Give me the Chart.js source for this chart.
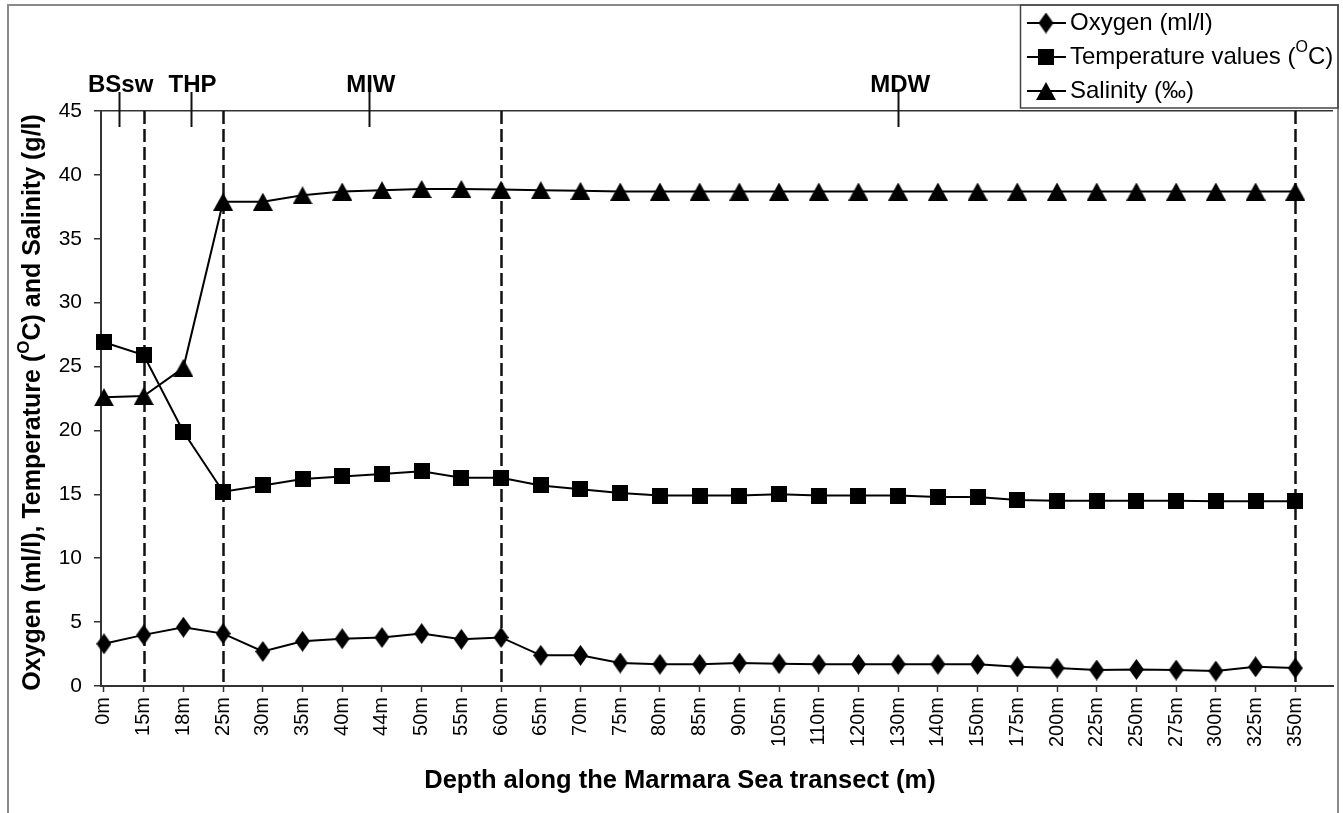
<!DOCTYPE html>
<html>
<head>
<meta charset="utf-8">
<script src="https://cdn.jsdelivr.net/npm/chart.js@4.4.1/dist/chart.umd.min.js"></script>
<style>
  html, body { margin: 0; padding: 0; background: #fff; }
  #wrap { width: 1343px; height: 813px; }
</style>
</head>
<body>
<div id="wrap"><canvas id="c" width="1343" height="813"></canvas></div>
<script>
const categories = ['0m','15m','18m','25m','30m','35m','40m','44m','50m','55m','60m','65m','70m','75m','80m','85m','90m','105m','110m','120m','130m','140m','150m','175m','200m','225m','250m','275m','300m','325m','350m'];
const oxygen = [3.3,4.0,4.6,4.1,2.7,3.5,3.7,3.8,4.1,3.65,3.8,2.4,2.4,1.8,1.7,1.7,1.8,1.75,1.7,1.7,1.7,1.7,1.7,1.5,1.4,1.25,1.3,1.25,1.17,1.5,1.4];
const temperature = [26.9,25.9,19.9,15.2,15.7,16.2,16.4,16.6,16.8,16.3,16.3,15.7,15.4,15.1,14.9,14.9,14.9,15.0,14.9,14.9,14.9,14.8,14.8,14.55,14.5,14.5,14.5,14.5,14.45,14.45,14.45];
const salinity = [22.6,22.7,24.9,37.9,37.9,38.4,38.7,38.8,38.9,38.9,38.85,38.8,38.75,38.7,38.7,38.7,38.7,38.7,38.7,38.7,38.7,38.7,38.7,38.7,38.7,38.7,38.7,38.7,38.7,38.7,38.7];
const yTicks = [0,5,10,15,20,25,30,35,40,45];
const zoneLabels = ['BSsw','THP','MIW','MDW'];
const zoneMarks = [0.37, 2.18, 6.67, 20];      // positions in category-index units
const boundaryIdx = [1, 3, 10, 30];            // dashed separators (15m, 25m, 60m, 350m)
const seriesNames = ['Oxygen (ml/l)', 'Temperature values (', 'Salinity (‰)'];
const xTitle = 'Depth along the Marmara Sea transect (m)';

const FONT = '"Liberation Sans", Arial, Helvetica, sans-serif';

function makeMarker(type) {
  const c = document.createElement('canvas');
  let w, h;
  if (type === 'diamond') { w = 15; h = 21; }
  else if (type === 'square') { w = 16; h = 16; }
  else { w = 20; h = 18; }
  c.width = w; c.height = h;
  const g = c.getContext('2d');
  g.fillStyle = '#000';
  g.beginPath();
  if (type === 'diamond') {
    g.moveTo(w/2, 0); g.lineTo(w, h/2); g.lineTo(w/2, h); g.lineTo(0, h/2);
  } else if (type === 'square') {
    g.rect(0, 0, w, h);
  } else {
    g.moveTo(w/2, 0); g.lineTo(w, h); g.lineTo(0, h);
  }
  g.closePath(); g.fill();
  return c;
}
const markers = [makeMarker('diamond'), makeMarker('square'), makeMarker('triangle')];

function toXY(arr) { return arr.map((v, i) => ({ x: i, y: v })); }

function mkDataset(label, arr, marker) {
  return {
    label: label,
    data: toXY(arr),
    borderColor: '#000',
    backgroundColor: '#000',
    borderWidth: 2,
    tension: 0,
    pointStyle: marker,
    pointRadius: 8,
    pointHoverRadius: 8,
    clip: false
  };
}

function drawSegments(ctx, segs, x, y) {
  let cx = x;
  segs.forEach(s => {
    ctx.font = s.font;
    ctx.fillText(s.text, cx, y + (s.dy || 0));
    cx += ctx.measureText(s.text).width;
  });
  return cx;
}
function segWidth(ctx, segs) {
  let w = 0;
  segs.forEach(s => { ctx.font = s.font; w += ctx.measureText(s.text).width; });
  return w;
}

const decorPlugin = {
  id: 'decor',
  beforeDraw(chart) {
    const ctx = chart.ctx;
    ctx.save();
    ctx.fillStyle = '#fff';
    ctx.fillRect(0, 0, chart.width, chart.height);
    ctx.strokeStyle = '#8a8a8a';
    ctx.lineWidth = 2;
    ctx.beginPath();
    ctx.moveTo(8, 813); ctx.lineTo(8, 5); ctx.lineTo(1338, 5); ctx.lineTo(1338, 813);
    ctx.stroke();
    ctx.restore();
  },
  beforeDatasetsDraw(chart) {
    const ctx = chart.ctx, xs = chart.scales.x, ys = chart.scales.y;
    ctx.save();
    ctx.strokeStyle = '#111';
    ctx.lineWidth = 2.5;
    ctx.setLineDash([13, 5]);
    boundaryIdx.forEach(i => {
      const px = Math.round(xs.getPixelForValue(i)) + 0.5;
      ctx.beginPath(); ctx.moveTo(px, ys.getPixelForValue(45)); ctx.lineTo(px, ys.getPixelForValue(0)); ctx.stroke();
    });
    ctx.setLineDash([]);
    ctx.lineWidth = 2;
    zoneMarks.forEach(v => {
      const px = Math.round(xs.getPixelForValue(v)) + 0.5;
      const top = ys.getPixelForValue(45);
      ctx.beginPath(); ctx.moveTo(px, top - 19); ctx.lineTo(px, top + 16); ctx.stroke();
    });
    ctx.restore();
  },
  afterDraw(chart) {
    const ctx = chart.ctx, xs = chart.scales.x, ys = chart.scales.y, a = chart.chartArea;
    ctx.save();
    ctx.fillStyle = '#000';
    ctx.font = 'bold 24px ' + FONT;
    ctx.textAlign = 'center';
    ctx.textBaseline = 'alphabetic';
    zoneLabels.forEach((t, k) => {
      ctx.fillText(t, xs.getPixelForValue(zoneMarks[k]) + 2, ys.getPixelForValue(45) - 19);
    });
    ctx.font = 'bold 25.5px ' + FONT;
    ctx.textAlign = 'center';
    ctx.textBaseline = 'middle';
    ctx.fillText(xTitle, 680, 781);
    const bf = 'bold 25px ' + FONT, sf = 'bold 17px ' + FONT;
    const ySegs = [
      { text: 'Oxygen (ml/l), Temperature (', font: bf },
      { text: 'O', font: sf, dy: -9 },
      { text: 'C) and Salinity (g/l)', font: bf }
    ];
    ctx.translate(33, (a.top + a.bottom) / 2 + 4);
    ctx.rotate(-Math.PI / 2);
    ctx.textAlign = 'left';
    ctx.textBaseline = 'middle';
    const w = segWidth(ctx, ySegs);
    drawSegments(ctx, ySegs, -w / 2, 0);
    ctx.restore();

    // legend
    ctx.save();
    ctx.strokeStyle = '#444';
    ctx.lineWidth = 1.5;
    ctx.strokeRect(1020.5, 5, 317.5, 103);
    const rows = [23, 57, 91];
    const lf = '24px ' + FONT, lsf = '16px ' + FONT;
    ctx.fillStyle = '#000';
    ctx.textAlign = 'left';
    ctx.textBaseline = 'middle';
    rows.forEach((ry, k) => {
      ctx.strokeStyle = '#000';
      ctx.lineWidth = 2;
      ctx.beginPath(); ctx.moveTo(1027, ry); ctx.lineTo(1066, ry); ctx.stroke();
      const m = markers[k];
      ctx.drawImage(m, 1046 - m.width / 2, ry - m.height / 2);
      if (k === 1) {
        drawSegments(ctx, [
          { text: seriesNames[1], font: lf },
          { text: 'O', font: lsf, dy: -9 },
          { text: 'C)', font: lf }
        ], 1070, ry);
      } else {
        ctx.font = lf;
        ctx.fillText(seriesNames[k], 1070, ry);
      }
    });
    ctx.restore();
  }
};

new Chart(document.getElementById('c'), {
  type: 'line',
  data: {
    datasets: [
      mkDataset('Oxygen (ml/l)', oxygen, markers[0]),
      mkDataset('Temperature values (°C)', temperature, markers[1]),
      mkDataset('Salinity (‰)', salinity, markers[2])
    ]
  },
  options: {
    responsive: false,
    animation: false,
    events: [],
    layout: { padding: { left: 0, top: 111, right: 5, bottom: 0 } },
    plugins: { legend: { display: false }, tooltip: { enabled: false } },
    scales: {
      x: {
        type: 'linear',
        min: -0.075,
        max: 30.95,
        afterBuildTicks: s => { s.ticks = categories.map((_, i) => ({ value: i })); },
        afterFit: s => { s.height = 127; },
        ticks: {
          autoSkip: false, minRotation: 90, maxRotation: 90, padding: 5,
          color: '#000', font: { family: FONT, size: 20 },
          callback: v => (categories[v] !== undefined ? categories[v] : '')
        },
        grid: { drawOnChartArea: false, tickLength: 6, tickColor: '#333', tickWidth: 1.5 },
        border: { display: true, color: '#333', width: 2 }
      },
      y: {
        min: 0, max: 45,
        afterBuildTicks: s => { s.ticks = yTicks.map(v => ({ value: v })); },
        afterFit: s => { s.width = 101; },
        ticks: { padding: 12, color: '#000', font: { family: FONT, size: 21 } },
        grid: {
          color: c => (c.tick && c.tick.value === 45 ? '#333' : 'rgba(0,0,0,0)'),
          lineWidth: 1.5, tickColor: '#333', tickLength: 7, drawTicks: true
        },
        border: { display: true, color: '#333', width: 2 }
      }
    }
  },
  plugins: [decorPlugin]
});
</script>
</body>
</html>
